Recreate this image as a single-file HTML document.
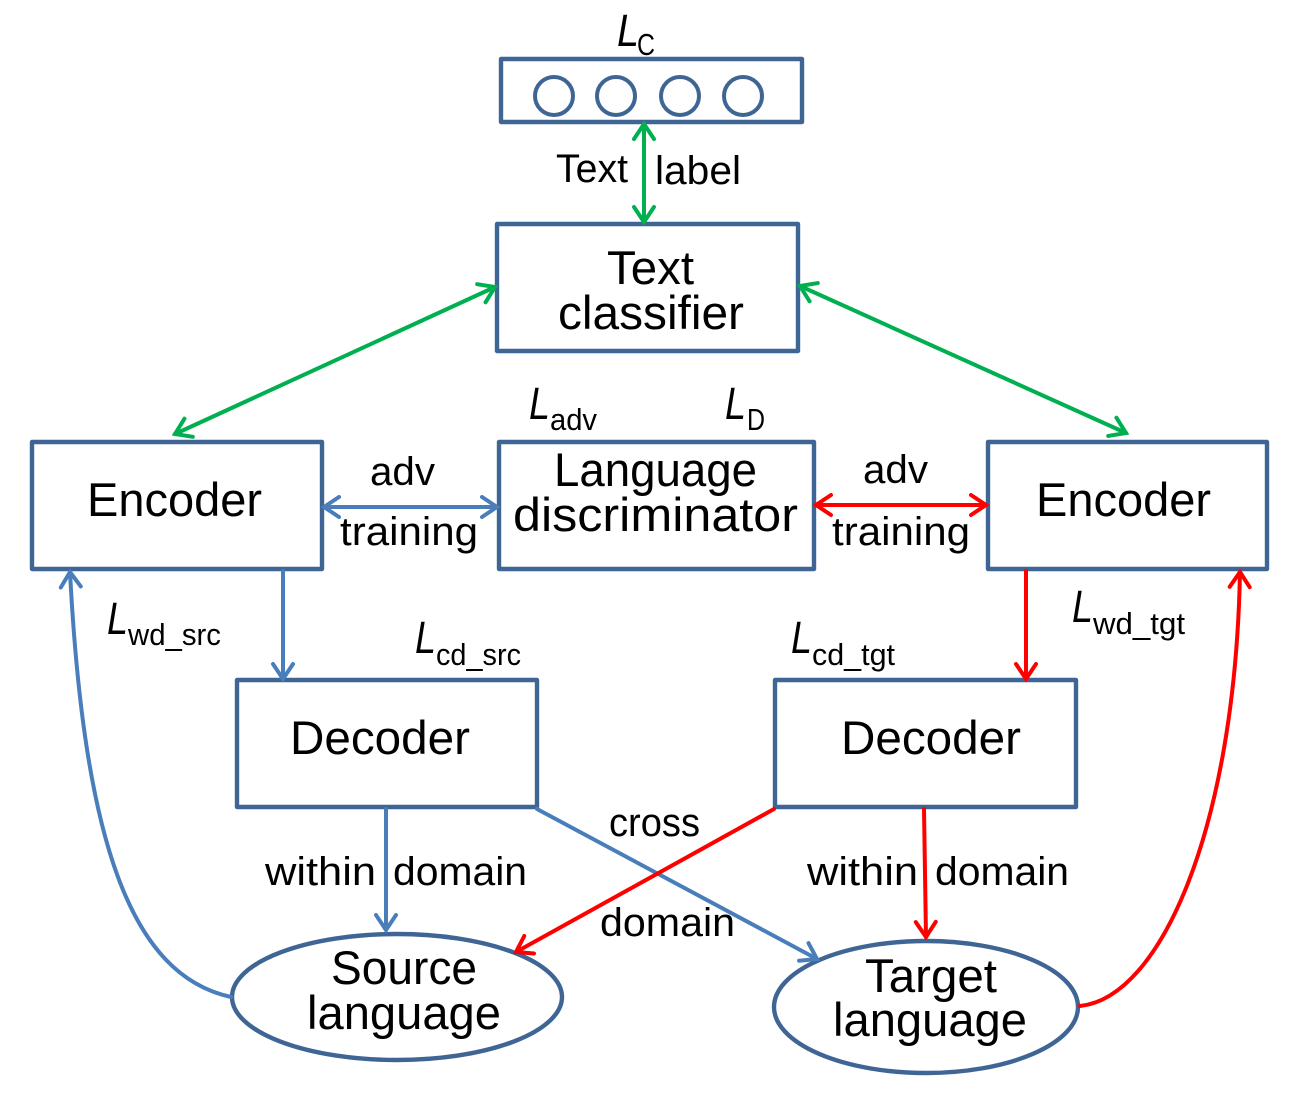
<!DOCTYPE html>
<html>
<head>
<meta charset="utf-8">
<style>
html,body{margin:0;padding:0;background:#fff;width:1300px;height:1093px;overflow:hidden}
svg{display:block}
text{font-family:"Liberation Sans",sans-serif;fill:#000}
.b{font-size:47px}
.s{font-size:40px}
.l{font-size:45px;font-style:italic}
.u{font-size:31px}
.box{fill:#fff;stroke:#3f6595;stroke-width:4.4;stroke-linejoin:round}
.g,.bl,.r{fill:none;stroke-width:4;stroke-linecap:round}
.g{stroke:#00b050}.bl{stroke:#4a7ebb}.r{stroke:#ff0000}
</style>
</head>
<body>
<svg width="1300" height="1093" viewBox="0 0 1300 1093" xmlns="http://www.w3.org/2000/svg">
<defs>
<marker id="mg" markerUnits="userSpaceOnUse" orient="auto-start-reverse" markerWidth="40" markerHeight="40" refX="20" refY="20" viewBox="0 0 40 40"><path d="M5,10 L20,20 L5,30" fill="none" stroke="#00b050" stroke-width="4" stroke-linecap="round"/></marker>
<marker id="mb" markerUnits="userSpaceOnUse" orient="auto-start-reverse" markerWidth="40" markerHeight="40" refX="20" refY="20" viewBox="0 0 40 40"><path d="M5,10 L20,20 L5,30" fill="none" stroke="#4a7ebb" stroke-width="4" stroke-linecap="round"/></marker>
<marker id="mr" markerUnits="userSpaceOnUse" orient="auto-start-reverse" markerWidth="40" markerHeight="40" refX="20" refY="20" viewBox="0 0 40 40"><path d="M5,10 L20,20 L5,30" fill="none" stroke="#ff0000" stroke-width="4" stroke-linecap="round"/></marker>
</defs>

<!-- boxes -->
<rect class="box" x="501" y="59" width="301" height="63"/>
<circle cx="554" cy="96" r="19" fill="#fff" stroke="#3f6595" stroke-width="4"/>
<circle cx="616" cy="96" r="19" fill="#fff" stroke="#3f6595" stroke-width="4"/>
<circle cx="680" cy="96" r="19" fill="#fff" stroke="#3f6595" stroke-width="4"/>
<circle cx="743" cy="96" r="19" fill="#fff" stroke="#3f6595" stroke-width="4"/>
<rect class="box" x="497" y="224" width="301" height="127"/>
<rect class="box" x="32" y="442" width="290" height="127"/>
<rect class="box" x="499" y="442" width="315" height="127"/>
<rect class="box" x="988" y="442" width="279" height="127"/>
<rect class="box" x="237" y="680" width="300" height="127"/>
<rect class="box" x="775" y="680" width="301" height="127"/>
<ellipse class="box" cx="397" cy="997" rx="165" ry="63"/>
<ellipse class="box" cx="926" cy="1007" rx="152" ry="66"/>

<!-- connectors -->
<line class="g" x1="644" y1="124" x2="644" y2="222" marker-start="url(#mg)" marker-end="url(#mg)"/>
<line class="g" x1="495" y1="287" x2="175" y2="434" marker-start="url(#mg)" marker-end="url(#mg)"/>
<line class="g" x1="800" y1="286" x2="1126" y2="433" marker-start="url(#mg)" marker-end="url(#mg)"/>
<line class="bl" x1="324" y1="507" x2="497" y2="507" marker-start="url(#mb)" marker-end="url(#mb)"/>
<line class="r" x1="816" y1="505" x2="986" y2="505" marker-start="url(#mr)" marker-end="url(#mr)"/>
<line class="bl" x1="283" y1="571" x2="283" y2="679" marker-end="url(#mb)"/>
<line class="r" x1="1026" y1="571" x2="1026" y2="679" marker-end="url(#mr)"/>
<line class="bl" x1="386" y1="809" x2="386" y2="930" marker-end="url(#mb)"/>
<line class="r" x1="924" y1="809" x2="926" y2="937" marker-end="url(#mr)"/>
<line class="bl" x1="537" y1="809" x2="817" y2="959" marker-end="url(#mb)"/>
<line class="r" x1="774" y1="809" x2="516" y2="952" marker-end="url(#mr)"/>
<path class="bl" d="M231,997 C130,975 84,840 70,572" marker-end="url(#mb)"/>
<path class="r" d="M1080,1006 C1160,998 1235,830 1240,572" marker-end="url(#mr)"/>

<!-- big labels -->
<text class="b" x="607" y="284" textLength="87" lengthAdjust="spacingAndGlyphs">Text</text>
<text class="b" x="558" y="329" textLength="186" lengthAdjust="spacingAndGlyphs">classifier</text>
<text class="b" x="87" y="516" textLength="175" lengthAdjust="spacingAndGlyphs">Encoder</text>
<text class="b" x="554" y="486" textLength="203" lengthAdjust="spacingAndGlyphs">Language</text>
<text class="b" x="513" y="531" textLength="285" lengthAdjust="spacingAndGlyphs">discriminator</text>
<text class="b" x="1036" y="516" textLength="175" lengthAdjust="spacingAndGlyphs">Encoder</text>
<text class="b" x="290" y="754" textLength="180" lengthAdjust="spacingAndGlyphs">Decoder</text>
<text class="b" x="841" y="754" textLength="180" lengthAdjust="spacingAndGlyphs">Decoder</text>
<text class="b" x="331" y="984" textLength="146" lengthAdjust="spacingAndGlyphs">Source</text>
<text class="b" x="307" y="1029" textLength="194" lengthAdjust="spacingAndGlyphs">language</text>
<text class="b" x="865" y="992" textLength="132" lengthAdjust="spacingAndGlyphs">Target</text>
<text class="b" x="833" y="1036" textLength="194" lengthAdjust="spacingAndGlyphs">language</text>

<!-- small labels -->
<text class="s" x="556" y="182" textLength="72" lengthAdjust="spacingAndGlyphs">Text</text>
<text class="s" x="655" y="184" textLength="86" lengthAdjust="spacingAndGlyphs">label</text>
<text class="s" x="370" y="485" textLength="65" lengthAdjust="spacingAndGlyphs">adv</text>
<text class="s" x="340" y="545" textLength="138" lengthAdjust="spacingAndGlyphs">training</text>
<text class="s" x="863" y="483" textLength="65" lengthAdjust="spacingAndGlyphs">adv</text>
<text class="s" x="832" y="545" textLength="138" lengthAdjust="spacingAndGlyphs">training</text>
<text class="s" x="265" y="885" textLength="111" lengthAdjust="spacingAndGlyphs">within</text>
<text class="s" x="393" y="885" textLength="134" lengthAdjust="spacingAndGlyphs">domain</text>
<text class="s" x="807" y="885" textLength="111" lengthAdjust="spacingAndGlyphs">within</text>
<text class="s" x="935" y="885" textLength="134" lengthAdjust="spacingAndGlyphs">domain</text>
<text class="s" x="609" y="836" textLength="91" lengthAdjust="spacingAndGlyphs">cross</text>
<text class="s" x="600" y="936" textLength="135" lengthAdjust="spacingAndGlyphs">domain</text>

<!-- loss labels -->
<text class="l" x="617" y="46" textLength="22" lengthAdjust="spacingAndGlyphs">L</text>
<text class="u" x="637" y="55" textLength="18" lengthAdjust="spacingAndGlyphs">C</text>
<text class="l" x="529" y="419" textLength="21" lengthAdjust="spacingAndGlyphs">L</text>
<text class="u" x="550" y="430" textLength="47" lengthAdjust="spacingAndGlyphs">adv</text>
<text class="l" x="725" y="419" textLength="21" lengthAdjust="spacingAndGlyphs">L</text>
<text class="u" x="747" y="430" textLength="18" lengthAdjust="spacingAndGlyphs">D</text>
<text class="l" x="107" y="634" textLength="21" lengthAdjust="spacingAndGlyphs">L</text>
<text class="u" x="128" y="645" textLength="93" lengthAdjust="spacingAndGlyphs">wd_src</text>
<text class="l" x="415" y="653" textLength="21" lengthAdjust="spacingAndGlyphs">L</text>
<text class="u" x="436" y="665" textLength="85" lengthAdjust="spacingAndGlyphs">cd_src</text>
<text class="l" x="791" y="653" textLength="21" lengthAdjust="spacingAndGlyphs">L</text>
<text class="u" x="812" y="665" textLength="83" lengthAdjust="spacingAndGlyphs">cd_tgt</text>
<text class="l" x="1072" y="622" textLength="21" lengthAdjust="spacingAndGlyphs">L</text>
<text class="u" x="1093" y="634" textLength="92" lengthAdjust="spacingAndGlyphs">wd_tgt</text>
</svg>
</body>
</html>
